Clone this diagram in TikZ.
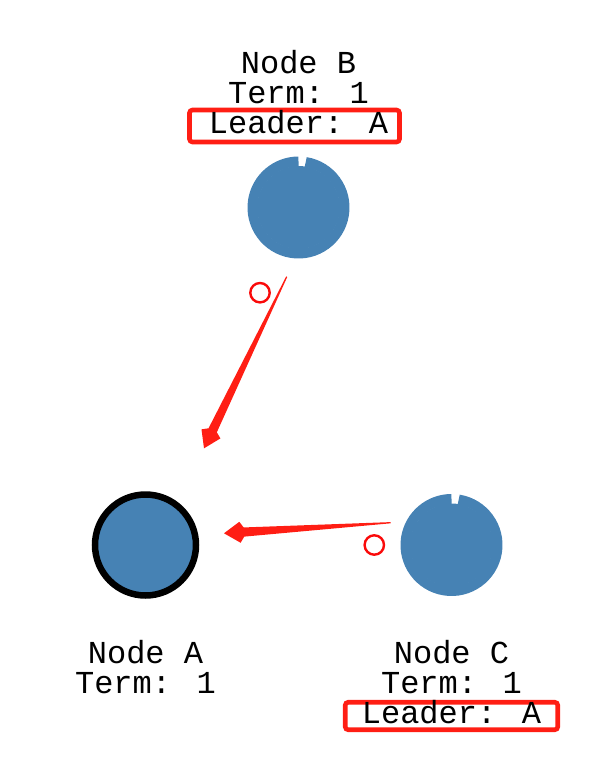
\documentclass[tikz,border=0pt]{standalone}
\usepackage{fontspec}
\setmainfont{Liberation Mono}
\usetikzlibrary{calc}
\definecolor{steel}{RGB}{70,130,180}
\definecolor{arrowred}{RGB}{255,30,20}
\definecolor{markred}{RGB}{250,10,10}
\tikzset{
  lbl/.style={inner sep=0pt, anchor=base, font=\fontsize{32}{30}\selectfont, text=black},
  leaderbox/.style={draw=arrowred, line width=4.6pt, rounded corners=3pt, inner sep=0pt},
  marker/.style={draw=markred, line width=2.4pt},
  arrowbody/.style={fill=arrowred, draw=none},
}
\newcommand{\taperarrow}[2]{%
  \fill[arrowbody]
    ($(#1)!0.6pt!90:(#2)$) --
    ($($(#2)!20pt!(#1)$)!4.6pt!90:(#2)$) --
    ($($(#2)!16pt!(#1)$)!10.5pt!90:(#2)$) --
    (#2) --
    ($($(#2)!16pt!(#1)$)!10.5pt!-90:(#2)$) --
    ($($(#2)!20pt!(#1)$)!4.6pt!-90:(#2)$) --
    ($(#1)!0.6pt!-90:(#2)$) -- cycle;}
\begin{document}
\begin{tikzpicture}[x=1pt,y=-1pt]
\useasboundingbox (0,0) rectangle (600,776);

% Node B (follower, with timer ring)
\coordinate (bc) at (298.5,207.5);
\fill[steel] (bc) circle[radius=41.5];
\draw[steel, line width=10pt] (bc) ++(-81:46) arc[start angle=-81, end angle=270, radius=46];
\node[lbl] (bname) at (298.5,73.5) {Node B};
\node[lbl] (bterm) at (298.5,103.5) {Term: 1};
\node[leaderbox, minimum width=210pt, minimum height=32pt] (bbox) at (294.5,126) {};
\node[lbl] (blead) at (298.5,133.5) {Leader: A};

% Node C (follower, with timer ring)
\coordinate (cc) at (451.5,545);
\fill[steel] (cc) circle[radius=41.5];
\draw[steel, line width=10pt] (cc) ++(-81:46) arc[start angle=-81, end angle=270, radius=46];
\node[lbl] (cname) at (451.5,663) {Node C};
\node[lbl] (cterm) at (451.5,693) {Term: 1};
\node[leaderbox, minimum width=212.5pt, minimum height=27.5pt] (cbox) at (451.5,716) {};
\node[lbl] (clead) at (451.5,723) {Leader: A};

% Node A (leader)
\node[circle, fill=steel, draw=black, line width=6.5pt, minimum size=101pt, inner sep=0pt] (a) at (145.5,545) {};
\node[lbl] (aname) at (145.5,663) {Node A};
\node[lbl] (aterm) at (145.5,693) {Term: 1};

% messages
\coordinate (bs) at (286.7,276.7);
\coordinate (bt) at (204,448.3);
\taperarrow{bs}{bt}
\node[marker, circle, minimum size=19.4pt, inner sep=0pt] (bm) at (260,292.7) {};

\coordinate (cs) at (390.7,522.7);
\coordinate (ct) at (224,533.3);
\taperarrow{cs}{ct}
\node[marker, circle, minimum size=19.4pt, inner sep=0pt] (cm) at (374.3,545) {};
\end{tikzpicture}
\end{document}
